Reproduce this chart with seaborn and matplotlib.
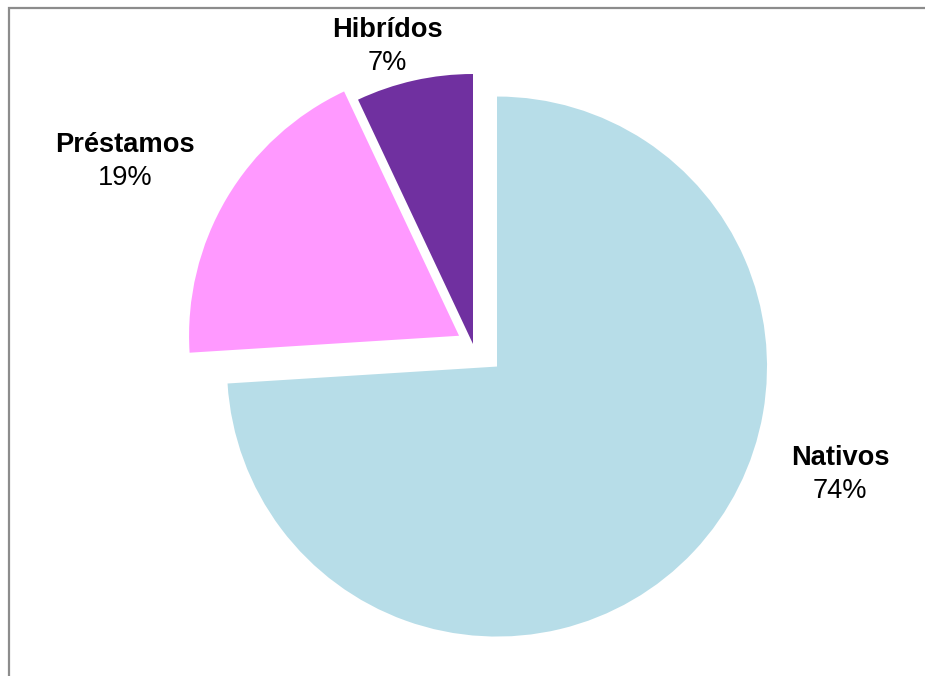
import matplotlib
matplotlib.use("Agg")
import matplotlib.pyplot as plt
import seaborn as sns
from matplotlib.patches import Rectangle

sns.set_theme(style="white")
plt.rcParams["font.family"] = ["Liberation Sans", "DejaVu Sans"]

# Share of each origin group (clockwise from 12 o'clock)
categories = ["Nativos", "Préstamos", "Hibrídos"]
shares = [74, 19, 7]
colors = ["#B7DDE8", "#FF99FF", "#7030A0"]
explode = [0.122, 0.06, 0.0]

W, H = 925, 676
fig = plt.figure(figsize=(W / 100, H / 100), dpi=100)
ax = fig.add_axes([0, 0, 1, 1])

R = 270.0              # pie radius in pixels
cx, cy = 473.0, 344.0  # pie centre (pixels from top-left)

ax.pie(shares, colors=colors, explode=explode, startangle=90,
       counterclock=False, radius=1.0,
       wedgeprops=dict(linewidth=0, edgecolor="none"))
ax.set_xlim(-cx / R, (W - cx) / R)
ax.set_ylim(-(H - cy) / R, cy / R)
ax.set_aspect("auto")
ax.axis("off")

# Labels: bold name with percentage underneath
label_pos = {"Nativos": (840, 458), "Préstamos": (125, 145), "Hibrídos": (387, 30)}
line_gap = 33
for name, val in zip(categories, shares):
    px, py = label_pos[name]
    fig.text(px / W, 1 - py / H, name, ha="center", va="center",
             fontsize=19.6, fontweight="bold", color="black")
    fig.text(px / W, 1 - (py + line_gap) / H, f"{val}%", ha="center",
             va="center", fontsize=19.6, color="black")

# Outer chart frame (left and top edges visible)
fig.patches.append(Rectangle((8.5 / W, -0.1), 1.2, 1.1 - 7.5 / H,
                             transform=fig.transFigure, fill=False,
                             edgecolor="#8C8C8C", linewidth=1.6))

fig.savefig("out.png", dpi=100)
